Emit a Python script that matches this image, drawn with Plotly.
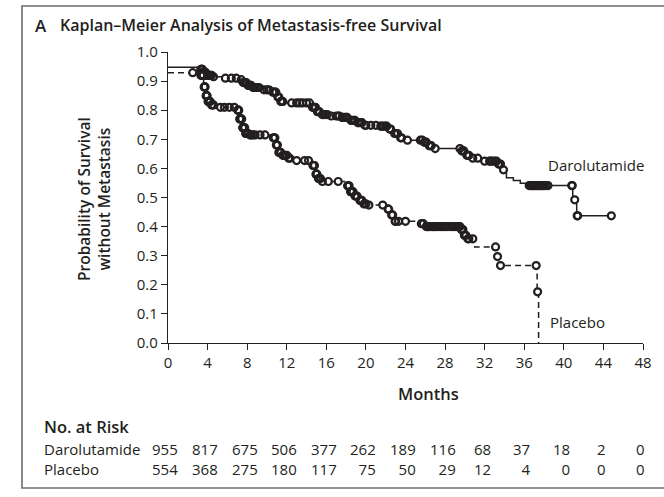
import numpy as np
import plotly.graph_objects as go

# Kaplan–Meier estimates: month of each step and survival probability after it
daro_time = [0, 3.3, 3.5, 3.8, 4.5, 5.5, 7.0, 7.5, 8.0, 8.5, 9.5, 10.5, 11.0, 11.3, 11.8,
             14.5, 15.0, 15.5, 16.3, 17.5, 18.3, 19.0, 19.7, 21.3, 22.2, 22.7, 23.3, 23.7,
             25.8, 26.2, 26.7, 29.6, 30.0, 30.6, 31.5, 33.3, 33.7, 34.2, 34.9, 35.6, 36.4,
             40.9, 41.3]
daro_surv = [0.948, 0.94, 0.93, 0.92, 0.915, 0.91, 0.905, 0.895, 0.885, 0.878, 0.87, 0.862,
             0.845, 0.83, 0.825, 0.81, 0.795, 0.785, 0.78, 0.775, 0.765, 0.757, 0.748, 0.745,
             0.735, 0.72, 0.705, 0.697, 0.69, 0.678, 0.668, 0.66, 0.645, 0.635, 0.625, 0.615,
             0.595, 0.568, 0.558, 0.549, 0.541, 0.492, 0.437]
daro_last_followup = 44.8

plac_time = [0, 3.3, 3.6, 3.8, 4.0, 4.3, 4.7, 7.0, 7.2, 7.5, 7.8, 8.2, 10.6, 10.9, 11.1, 11.5,
             12.1, 12.6, 14.6, 14.9, 15.1, 15.5, 18.1, 18.4, 18.8, 19.3, 19.7, 20.2, 22.2, 22.5,
             22.9, 25.5, 26.0, 29.6, 29.9, 30.2, 31.0, 33.2, 33.5, 37.3, 37.45]
plac_surv = [0.929, 0.92, 0.88, 0.85, 0.83, 0.818, 0.81, 0.80, 0.77, 0.74, 0.72, 0.715, 0.705,
             0.68, 0.655, 0.645, 0.635, 0.627, 0.61, 0.58, 0.565, 0.555, 0.54, 0.52, 0.505,
             0.49, 0.478, 0.474, 0.46, 0.44, 0.418, 0.41, 0.40, 0.39, 0.37, 0.358, 0.33, 0.297,
             0.266, 0.176, 0.0]

# Censoring times (months)
daro_censor = [3.32, 3.36, 3.4, 3.44, 3.48, 3.52, 3.56, 3.6, 3.64, 3.68, 3.72, 3.78, 3.85,
               3.9, 3.95, 4.0, 4.05, 4.1, 4.2, 4.3, 4.4, 4.6, 5.8, 6.4, 6.9,
               7.4, 7.6, 7.7, 7.8, 7.9, 8.1, 8.2, 8.3, 8.4, 8.6, 8.7, 8.8, 9.0, 9.2, 9.7,
               10.0, 10.2, 10.6, 10.7, 10.8, 10.9, 11.1, 11.2, 11.4, 11.5, 11.6,
               12.5, 13.0, 13.3, 13.6, 14.0, 14.3,
               14.6, 14.7, 14.8, 14.9, 15.1, 15.2, 15.3, 15.6, 15.7, 15.9, 16.1,
               16.5, 17.0, 17.2, 17.3, 17.6, 17.7, 17.9, 18.0, 18.1, 18.5, 18.6, 18.8, 18.9,
               19.2, 19.3, 19.5, 19.6, 19.9, 20.0,
               20.5, 21.0, 21.5, 21.6, 21.8, 22.0, 22.1, 22.4, 22.5, 22.9, 23.0, 23.2, 23.5,
               23.6, 24.2, 25.5, 25.7, 25.9, 26.0, 26.1, 26.4, 26.5, 26.6, 27.0,
               29.5, 29.7, 29.8, 29.9, 30.2, 30.3, 30.4, 30.8, 31.3, 32.0, 32.5, 32.6, 32.8,
               33.0, 33.2, 33.4, 33.5, 33.6, 33.9,
               36.5, 36.6, 36.7, 36.8, 36.9, 37.0, 37.1, 37.2, 37.3, 37.4, 37.5, 37.6, 37.7,
               37.8, 37.9, 38.0, 38.2, 38.4, 40.8, 40.85, 41.1, 41.35, 41.4, 44.8]
plac_censor = [2.5, 3.32, 3.38, 3.45, 3.5, 3.55, 3.65, 3.7, 3.75, 3.85, 3.9, 3.95, 4.05, 4.1,
               4.2, 4.25, 4.4, 4.5, 4.6, 5.3, 5.7, 6.2, 6.7,
               7.05, 7.1, 7.15, 7.25, 7.3, 7.35, 7.45, 7.55, 7.6, 7.7, 7.75, 7.85, 7.9, 8.0,
               8.1, 8.3, 8.4, 8.6, 8.8, 9.3, 9.8,
               10.65, 10.7, 10.8, 10.95, 11.0, 11.05, 11.2, 11.3, 11.4, 11.6, 11.7, 11.9,
               12.0, 12.2, 12.3, 13.0, 13.8, 14.2,
               14.65, 14.7, 14.8, 14.95, 15.0, 15.05, 15.2, 15.3, 15.4, 15.6, 16.2, 17.2,
               18.15, 18.2, 18.3, 18.45, 18.5, 18.6, 18.7, 18.9, 19.0, 19.1, 19.4, 19.5,
               19.6, 19.8, 20.0, 20.3, 21.7, 22.25, 22.3, 22.6, 22.7, 22.95, 23.0, 23.3,
               24.0, 25.6, 25.8, 26.1, 26.2, 26.3, 26.5, 26.7, 26.8, 27.0, 27.1, 27.3, 27.5,
               27.7, 27.9, 28.1, 28.3, 28.6, 28.8, 29.0, 29.2, 29.4, 29.5,
               29.65, 29.7, 29.8, 29.95, 30.0, 30.1, 30.3, 30.4, 30.8,
               33.1, 33.3, 33.6, 37.2, 37.35]

# Number at risk table
risk_months = [0, 4, 8, 12, 16, 20, 24, 28, 32, 36, 40, 44, 48]
daro_at_risk = [955, 817, 675, 506, 377, 262, 189, 116, 68, 37, 18, 2, 0]
plac_at_risk = [554, 368, 275, 180, 117, 75, 50, 29, 12, 4, 0, 0, 0]

FONT = "Open Sans"
INK = "#231f20"

W, H = 664, 497
L, R, T, B = 168, 643, 52, 343   # plot area in pixels


def px_x(px):
    return (px - L) / (R - L)


def px_y(py):
    return (B - py) / (B - T)


def surv_at(times, surv, t):
    idx = np.searchsorted(np.asarray(times), t, side="right") - 1
    return float(np.asarray(surv)[idx])


fig = go.Figure()


def add_censor_marks(times, km_time, km_surv):
    ys = [surv_at(km_time, km_surv, t) for t in times]
    # white disc under each tick mark, then the outlines on top so clusters build up dark
    fig.add_trace(go.Scatter(
        x=times, y=ys, mode="markers",
        marker=dict(symbol="circle", size=7, color="white", line=dict(width=0)),
        hoverinfo="skip", showlegend=False))
    fig.add_trace(go.Scatter(
        x=times, y=ys, mode="markers",
        marker=dict(symbol="circle-open", size=7, color=INK, line=dict(width=2.2)),
        hoverinfo="skip", showlegend=False))


# Darolutamide curve (solid)
fig.add_trace(go.Scatter(
    x=daro_time + [daro_last_followup], y=daro_surv + [daro_surv[-1]],
    mode="lines", line=dict(color=INK, width=1.5, shape="hv"),
    hoverinfo="skip", showlegend=False))
add_censor_marks(daro_censor, daro_time, daro_surv)

# Placebo curve (dashed)
fig.add_trace(go.Scatter(
    x=plac_time, y=plac_surv,
    mode="lines", line=dict(color=INK, width=1.5, shape="hv", dash="6px,4px"),
    hoverinfo="skip", showlegend=False))
add_censor_marks(plac_censor, plac_time, plac_surv)

annotations = []


def text(x, y, s, size=15, bold=False, xanchor="left", yanchor="middle", angle=0,
         align="left"):
    annotations.append(dict(
        x=x, y=y, xref="paper", yref="paper", text=s, showarrow=False,
        xanchor=xanchor, yanchor=yanchor, textangle=angle, align=align,
        font=dict(family=FONT, size=size, color=INK, weight=600 if bold else 400)))


# Panel title
text(px_x(33), px_y(25), "A", size=17, bold=True)
text(px_x(58), px_y(25), "Kaplan–Meier Analysis of Metastasis-free Survival", size=16,
     bold=True)

# Axis titles
text(px_x(94), px_y(199), "Probability of Survival<br>without Metastasis", size=15.5,
     bold=True, xanchor="center", angle=-90, align="center")
text(px_x(428), px_y(393), "Months", size=16.5, bold=True, xanchor="center")

# Curve labels
text(px_x(546), px_y(165), "Darolutamide", size=15)
text(px_x(548), px_y(322), "Placebo", size=15)

# Number at risk
text(px_x(42), px_y(427), "No. at Risk", size=16.5, bold=True)
rows_y = px_y(459)
text(px_x(42), rows_y, "Darolutamide<br>Placebo", size=15)
digit_w = 8.3
for m, d, p in zip(risk_months, daro_at_risk, plac_at_risk):
    xc = L + m * (R - L) / 48
    right = xc + len(str(d)) * digit_w / 2
    text(px_x(right), rows_y, f"{d}<br>{p}", size=15, xanchor="right", align="right")

# Panel frame
shapes = [dict(type="path", xref="paper", yref="paper",
               path=f"M {px_x(W + 5)} {px_y(6)} L {px_x(22)} {px_y(6)} "
                    f"L {px_x(22)} {px_y(488)} L {px_x(W + 5)} {px_y(488)}",
               line=dict(color="#6d6d6d", width=1.6))]

axis_common = dict(showgrid=False, zeroline=False, showline=True, linecolor=INK, linewidth=1.4,
                   ticks="outside", ticklen=6, tickwidth=1.4, tickcolor=INK,
                   tickfont=dict(family=FONT, size=15, color=INK))

fig.update_layout(
    width=W, height=H, autosize=False,
    margin=dict(l=L, r=W - R, t=T, b=H - B, pad=0),
    paper_bgcolor="white", plot_bgcolor="white",
    font=dict(family=FONT, size=15, color=INK),
    annotations=annotations, shapes=shapes,
    xaxis=dict(range=[0, 48], tickvals=list(range(0, 49, 4)), **axis_common),
    yaxis=dict(range=[0, 1], tickvals=[i / 10 for i in range(11)], tickformat=".1f",
               **axis_common),
)

fig.write_html("out.html")
